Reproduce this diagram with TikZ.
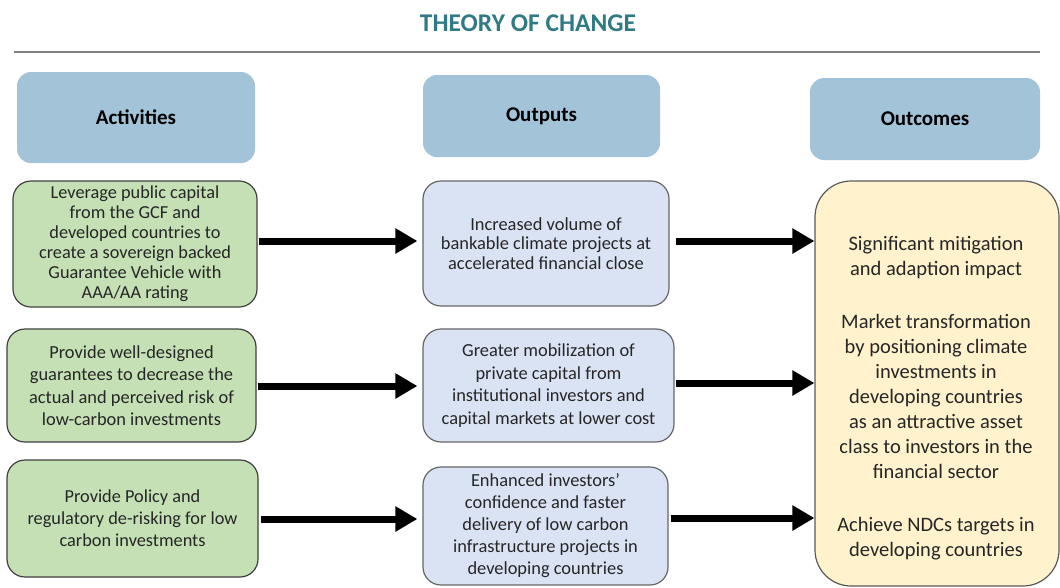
\documentclass[tikz,border=0pt]{standalone}
\usepackage{fontspec}
\setmainfont{Carlito}
\usetikzlibrary{arrows.meta,calc}
\definecolor{titleteal}{HTML}{2F7A85}
\definecolor{hdrblue}{HTML}{A2C3D8}
\definecolor{actgreen}{HTML}{C5E0B4}
\definecolor{outblue}{HTML}{DAE3F3}
\definecolor{outcyellow}{HTML}{FFF2CC}
\definecolor{bodytext}{HTML}{262626}
\definecolor{rulegray}{HTML}{808080}
\tikzset{
  hdr/.style={fill=hdrblue, draw=none, rounded corners=14pt, inner sep=0pt,
    font=\bfseries\fontsize{21}{24}\selectfont, text=black},
  actbox/.style={fill=actgreen, draw=black!75, line width=1.2pt, rounded corners=18pt,
    inner sep=0pt, align=center, text=bodytext},
  outbox/.style={fill=outblue, draw=black!60, line width=1.2pt, rounded corners=18pt,
    inner sep=0pt, align=center, text=bodytext},
  resbox/.style={fill=outcyellow, draw=black!65, line width=1.2pt, rounded corners=36pt,
    inner sep=0pt},
  bigarrow/.style={line width=7pt, -{Triangle[length=22pt,width=24pt]}},
}
\begin{document}
\begin{tikzpicture}[x=1pt,y=-1pt]
\useasboundingbox (0,0) rectangle (1060,587);
% title and rule
\node[text=titleteal, font=\bfseries\fontsize{25.5}{28}\selectfont] (title) at (528,23) {THEORY OF CHANGE};
\coordinate (ruleL) at (14,52);
\coordinate (ruleR) at (1040,52);
\draw[rulegray, line width=2pt] (ruleL) -- (ruleR);
% headers
\node[hdr, minimum width=238pt, minimum height=91pt] (h1) at (136,117.5) {Activities};
\node[hdr, minimum width=237pt, minimum height=82pt] (h2) at (541.5,116) {Outputs};
\node[hdr, minimum width=230pt, minimum height=82pt] (h3) at (925,119) {Outcomes};
% activities
\node[actbox, minimum width=244pt, minimum height=126pt, font=\fontsize{18.3}{20}\selectfont] (l1) at (135,244)
  {Leverage public capital\\from the GCF and\\developed countries to\\create a sovereign backed\\Guarantee Vehicle with\\AAA/AA rating};
\node[actbox, minimum width=249pt, minimum height=113pt, font=\fontsize{18.4}{22.5}\selectfont] (l2) at (131.5,385.5)
  {Provide well-designed\\guarantees to decrease the\\actual and perceived risk of\\low-carbon investments};
\node[actbox, minimum width=251pt, minimum height=117pt, font=\fontsize{18.3}{22}\selectfont] (l3) at (132.5,518.5)
  {Provide Policy and\\regulatory de-risking for low\\carbon investments};
% outputs
\node[outbox, minimum width=246pt, minimum height=125pt, font=\fontsize{18.4}{19.5}\selectfont] (m1) at (546,243.5)
  {Increased volume of\\bankable climate projects at\\accelerated financial close};
\node[outbox, minimum width=251pt, minimum height=113pt, font=\fontsize{18.4}{22.5}\selectfont] (m2) at (548.5,385.5)
  {Greater mobilization of\\private capital from\\institutional investors and\\capital markets at lower cost};
\node[outbox, minimum width=245pt, minimum height=118pt, font=\fontsize{18.4}{22}\selectfont] (m3) at (545.5,526)
  {Enhanced investors’\\confidence and faster\\delivery of low carbon\\infrastructure projects in\\developing countries};
% outcomes
\node[resbox, minimum width=244pt, minimum height=405pt] (r) at (937,383.5) {};
\node[align=center, text=bodytext, inner sep=0pt, font=\fontsize{20.5}{25}\selectfont] (rt) at (936,398.5)
  {Significant mitigation\\and adaption impact\\[28pt]Market transformation\\by positioning climate\\investments in\\developing countries\\as an attractive asset\\class to investors in the\\financial sector\\[28pt]Achieve NDCs targets in\\developing countries};
% arrows
\draw[bigarrow] ([xshift=1pt]l1.east |- 0,241) -- ([xshift=-5pt]m1.west |- 0,241);
\draw[bigarrow] ([xshift=1pt]l2.east |- 0,386) -- ([xshift=-5pt]m2.west |- 0,386);
\draw[bigarrow] ([xshift=2pt]l3.east |- 0,519) -- ([xshift=-5pt]m3.west |- 0,519);
\draw[bigarrow] ([xshift=6pt]m1.east |- 0,241) -- (r.west |- 0,241);
\draw[bigarrow] ([xshift=1pt]m2.east |- 0,383) -- (r.west |- 0,383);
\draw[bigarrow] ([xshift=2pt]m3.east |- 0,518) -- (r.west |- 0,518);
\end{tikzpicture}
\end{document}
